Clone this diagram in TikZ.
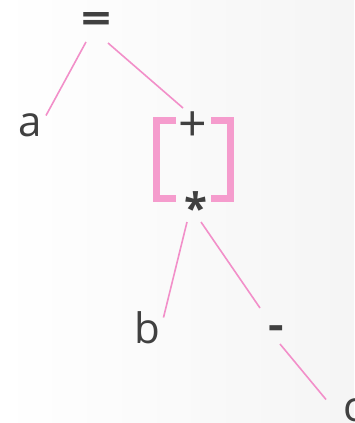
\documentclass[tikz,border=0pt]{standalone}
\usepackage{fontspec}
\setmainfont{Open Sans}
\begin{document}
\begin{tikzpicture}[x=1pt,y=-1pt,
  lbl/.style={inner sep=0pt, outer sep=0pt, text=txtgray, font=\fontsize{42}{50}\selectfont},
  sym/.style={lbl, font=\fontsize{42}{50}\selectfont\bfseries},
  edge/.style={draw=pinkline, line width=1.6pt},
  brk/.style={draw=pinkbrk, line width=7pt}]
\definecolor{txtgray}{HTML}{404040}
\definecolor{pinkline}{HTML}{F28FC9}
\definecolor{pinkbrk}{HTML}{F59CCD}
\path[use as bounding box] (0,0) rectangle (354,423);
\shade[left color=white, right color=black!4] (0,0) rectangle (354,423);
\begin{scope}
\clip (0,0) rectangle (354,423);
\node[sym] (eq) at (96,23.5) {\scalebox{1.25}[1]{=}};
\node[lbl] (a) at (30,125.5) {a};
\node[lbl, font=\fontsize{50}{60}\selectfont] (plus) at (193,127) {+};
\node[sym] (star) at (196,208) {*};
\node[lbl] (b) at (147.5,327.5) {b};
\node[sym] (minus) at (276,332.5) {\scalebox{1.15}[1]{-}};
\node[lbl] (c) at (353,410) {c};
% brackets
\draw[brk] (176,120.5) -- (156.5,120.5) -- (156.5,198.5) -- (176,198.5);
\draw[brk] (211,120.5) -- (230.5,120.5) -- (230.5,198.5) -- (211,198.5);
% connectors
\draw[edge] ([shift={(-10,18.5)}]eq.center) -- ([shift={(16,-10)}]a.center);
\draw[edge] ([shift={(12,19.5)}]eq.center) -- ([shift={(-10,-19)}]plus.center);
\draw[edge] ([shift={(-9,14)}]star.center) -- ([shift={(16,-10)}]b.center);
\draw[edge] ([shift={(5,14)}]star.center) -- ([shift={(-16,-24.5)}]minus.center);
\draw[edge] ([shift={(4,11.5)}]minus.center) -- ([shift={(-27,-10.5)}]c.center);
\end{scope}
\end{tikzpicture}
\end{document}
